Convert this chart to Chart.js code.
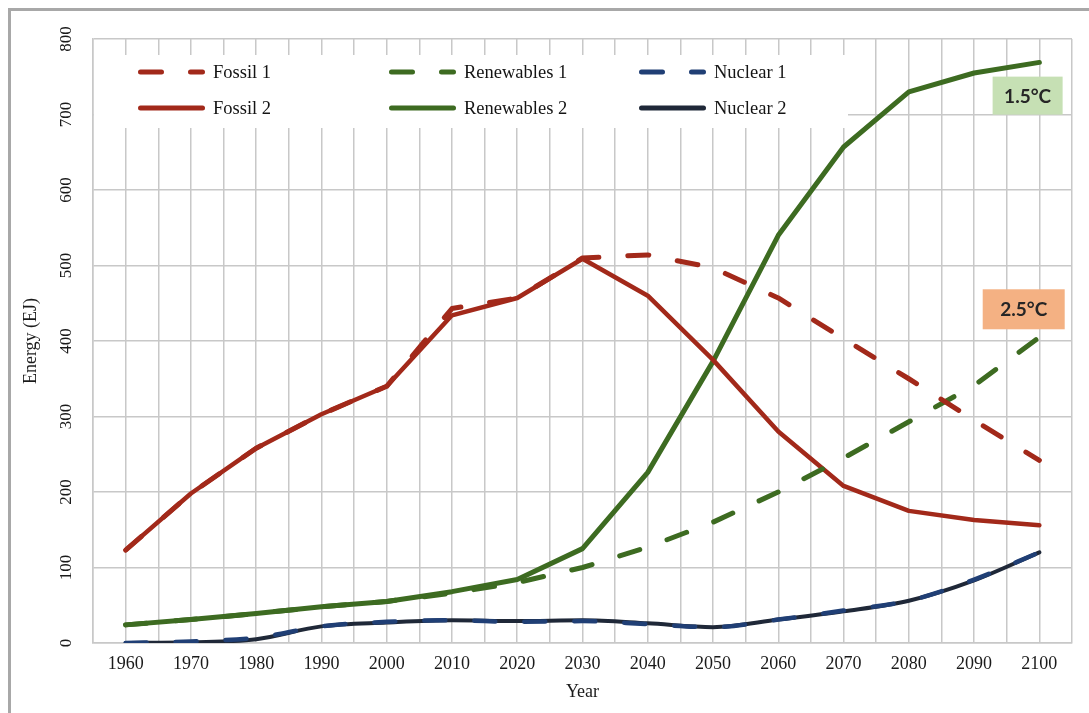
<!DOCTYPE html>
<html>
<head>
<meta charset="utf-8">
<script src="https://cdn.jsdelivr.net/npm/chart.js@4.4.1/dist/chart.umd.min.js"></script>
<style>
  html, body { margin: 0; padding: 0; background: #ffffff; overflow: hidden; }
  #frame { position: absolute; left: 8px; top: 8px; width: 1200px; height: 800px; border: 3px solid #a8a8a8; }
  #c { position: absolute; left: 0; top: 0; }
</style>
</head>
<body>
<div id="frame"></div>
<canvas id="c" width="1089" height="713"></canvas>
<script>
// Global primary energy by source (EJ), two pathways
const years      = [1960, 1970, 1980, 1990, 2000, 2010, 2020, 2030, 2040, 2050, 2060, 2070, 2080, 2090, 2100];
const fossil1    = [123, 198, 258, 303, 340, 443, 457, 510, 514, 497, 457, 403, 350, 295, 242];
const renew1     = [24, 31, 39, 48, 55, 66, 80, 100, 127, 160, 200, 245, 293, 341, 405];
const nuclear1   = [0, 2, 7, 22, 28, 30, 28, 29, 25, 21, 31, 43, 56, 84, 120];
const fossil2    = [123, 198, 258, 303, 340, 434, 457, 509, 460, 375, 280, 208, 175, 163, 156];
const renew2     = [24, 31, 39, 48, 55, 68, 84, 125, 226, 373, 540, 657, 730, 755, 769];
const nuclear2   = [0, 1, 5, 22, 27, 30, 29, 30, 26, 21, 31, 42, 56, 83, 120];

const yearLabels = ['1960','1970','1980','1990','2000','2010','2020','2030','2040','2050','2060','2070','2080','2090','2100'];
const energyTicks = ['0','100','200','300','400','500','600','700','800'];
const tempTags   = ['1.5°C', '2.5°C'];

const RED = '#a2291a', GREEN = '#3d6b21', NAVY_D = '#203f75', NAVY = '#1f2838';
const DASH = [21, 29];

function series(label, values, color, dashed, width) {
  return {
    label,
    data: years.map((yr, i) => ({ x: yr, y: values[i] })),
    borderColor: color,
    backgroundColor: color,
    borderWidth: width,
    borderDash: dashed ? DASH : [],
    borderCapStyle: 'round',
    borderJoinStyle: 'round',
    pointRadius: 0,
    fill: false,
    tension: 0
  };
}

const datasets = [
  series('Fossil 1', fossil1, RED, true, 5),
  series('Renewables 1', renew1, GREEN, true, 5),
  Object.assign(series('Nuclear 1', nuclear1, NAVY_D, true, 4.5), { cubicInterpolationMode: 'monotone' }),
  series('Fossil 2', fossil2, RED, false, 4.5),
  series('Renewables 2', renew2, GREEN, false, 5),
  Object.assign(series('Nuclear 2', nuclear2, NAVY, false, 4), { cubicInterpolationMode: 'monotone' })
];

// Legend drawn in a white panel inside the plot, three columns by two rows
const legendLayout = { left: 94, top: 55, right: 848, bottom: 128, cols: [138, 389, 639], rows: [72, 108], sample: 67, gap: 8 };
const seriesLegend = {
  id: 'seriesLegend',
  beforeDatasetsDraw(chart) {
    const ctx = chart.ctx, L = legendLayout;
    ctx.save();
    ctx.fillStyle = '#ffffff';
    ctx.fillRect(L.left, L.top, L.right - L.left, L.bottom - L.top);
    chart.data.datasets.forEach((ds, i) => {
      const x = L.cols[i % 3], y = L.rows[Math.floor(i / 3)];
      ctx.beginPath();
      ctx.strokeStyle = ds.borderColor;
      ctx.lineWidth = 5;
      ctx.lineCap = 'round';
      ctx.setLineDash(ds.borderDash || []);
      ctx.moveTo(x + 2.5, y);
      ctx.lineTo(x + L.sample - 2.5, y);
      ctx.stroke();
      ctx.setLineDash([]);
      ctx.fillStyle = '#141414';
      ctx.font = '18.5px "Liberation Serif"';
      ctx.textAlign = 'left';
      ctx.textBaseline = 'middle';
      ctx.fillText(ds.label, x + L.sample + L.gap, y + 1);
    });
    ctx.restore();
  }
};

// Warming-scenario tags placed at the end of the pathways
const tagSpecs = [
  { text: tempTags[0], year: 2098.2, value: 725, w: 70, h: 38, fill: '#c6e0b4' },
  { text: tempTags[1], year: 2097.6, value: 442, w: 82, h: 40, fill: '#f4b183' }
];
const scenarioTags = {
  id: 'scenarioTags',
  afterDatasetsDraw(chart) {
    const ctx = chart.ctx, xs = chart.scales.x, ys = chart.scales.y;
    ctx.save();
    tagSpecs.forEach(t => {
      const cx = xs.getPixelForValue(t.year), cy = ys.getPixelForValue(t.value);
      ctx.fillStyle = t.fill;
      ctx.fillRect(cx - t.w / 2, cy - t.h / 2, t.w, t.h);
      ctx.fillStyle = '#262626';
      ctx.font = 'bold 19px Lato';
      ctx.textAlign = 'center';
      ctx.textBaseline = 'middle';
      ctx.fillText(t.text, cx, cy + 1);
    });
    ctx.restore();
  }
};

const gridColor = '#c8c8c8';
const serif = 'Liberation Serif';

new Chart(document.getElementById('c'), {
  type: 'line',
  data: { datasets },
  options: {
    responsive: false,
    animation: false,
    devicePixelRatio: 1,
    layout: { padding: { left: 13, top: 39, right: 17, bottom: 0 } },
    plugins: { legend: { display: false }, tooltip: { enabled: false } },
    scales: {
      x: {
        type: 'linear',
        min: 1955,
        max: 2105,
        afterFit(s) { s.height = 70; },
        grid: { color: gridColor, lineWidth: 1.5, drawTicks: false },
        border: { color: gridColor, width: 1.5 },
        ticks: {
          stepSize: 5,
          autoSkip: false,
          maxRotation: 0,
          padding: 10,
          color: '#1a1a1a',
          font: { family: serif, size: 18 },
          callback: (v) => { const i = yearLabels.indexOf(String(v)); return i >= 0 ? yearLabels[i] : ''; }
        },
        title: { display: true, text: 'Year', color: '#1a1a1a', font: { family: serif, size: 18 }, padding: { top: 0, bottom: 10 } }
      },
      y: {
        min: 0,
        max: 800,
        afterFit(s) { s.width = 80; },
        grid: { color: gridColor, lineWidth: 1.5, drawTicks: false },
        border: { color: gridColor, width: 1.5 },
        ticks: {
          stepSize: 100,
          minRotation: 90,
          maxRotation: 90,
          crossAlign: 'center',
          padding: 14,
          color: '#1a1a1a',
          font: { family: serif, size: 17 },
          callback: (v) => { const i = energyTicks.indexOf(String(v)); return i >= 0 ? energyTicks[i] : ''; }
        },
        title: { display: true, text: 'Energy (EJ)', color: '#1a1a1a', font: { family: serif, size: 18 }, padding: { top: 7, bottom: 0 } }
      }
    }
  },
  plugins: [seriesLegend, scenarioTags]
});
</script>
</body>
</html>
